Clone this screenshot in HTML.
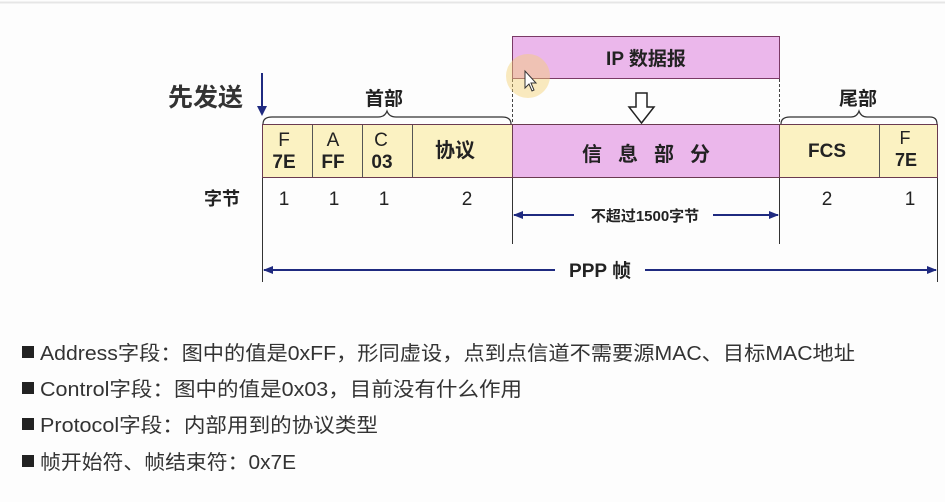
<!DOCTYPE html>
<html><head><meta charset="utf-8"><style>
html,body{margin:0;padding:0;background:#fdfdfd;}
svg{display:block;}
text{font-family:"Liberation Sans","Noto Sans CJK SC",sans-serif;}
</style></head><body>
<svg width="945" height="502" viewBox="0 0 945 502" xmlns="http://www.w3.org/2000/svg">
<defs>
<marker id="ah" markerWidth="10" markerHeight="8" refX="9" refY="4" orient="auto" markerUnits="userSpaceOnUse"><path d="M0,0 L10,4 L0,8 Z" fill="#1f2a80"/></marker>
</defs>
<rect x="0" y="0" width="945" height="502" fill="#fdfdfd"/>
<line x1="0" y1="2.5" x2="945" y2="2.5" stroke="#e6e6e6" stroke-width="2"/>

<rect x="512.5" y="36.5" width="267" height="42" fill="#ebb7eb" stroke="#7a3a66" stroke-width="1"/>
<text x="646" y="65" font-size="19" font-weight="bold" text-anchor="middle" fill="#222">IP 数据报</text>
<line x1="512.5" y1="79" x2="512.5" y2="124" stroke="#444" stroke-dasharray="3,2"/>
<line x1="779.5" y1="79" x2="779.5" y2="124" stroke="#444" stroke-dasharray="3,2"/>
<circle cx="528" cy="76" r="22" fill="#f3d070" opacity="0.45"/>
<path d="M525,71 L525,88 L529,84 L532,91 L534,90 L531,83 L536,83 Z" fill="#fff" stroke="#333" stroke-width="1"/>
<path d="M636,93 L647,93 L647,107 L654,107 L641.5,123 L629,107 L636,107 Z" fill="#fff" stroke="#222" stroke-width="1.5"/>

<text x="168" y="106" font-size="25" font-weight="bold" fill="#333">先发送</text>
<line x1="262" y1="73" x2="262" y2="108" stroke="#1f2a80" stroke-width="2"/>
<path d="M257,106 L267,106 L262,116 Z" fill="#1f2a80"/>

<text x="384" y="105" font-size="19" font-weight="bold" fill="#222" text-anchor="middle">首部</text>
<path d="M263,124 Q263,117 272,117 L378,117 Q385,117 387,111 Q389,117 396,117 L502,117 Q511,117 511,124" fill="none" stroke="#333" stroke-width="1.2"/>
<text x="858" y="105" font-size="19" font-weight="bold" fill="#222" text-anchor="middle">尾部</text>
<path d="M781,124 Q781,117 790,117 L851,117 Q857,117 859,111 Q861,117 867,117 L930,117 Q937,117 937,124" fill="none" stroke="#333" stroke-width="1.2"/>

<rect x="262.5" y="124.5" width="250" height="53" fill="#fbf2c2" stroke="#6a3a50" stroke-width="1"/>
<rect x="512.5" y="124.5" width="267" height="53" fill="#ebb7eb" stroke="#6a3a50" stroke-width="1"/>
<rect x="779.5" y="124.5" width="158" height="53" fill="#fbf2c2" stroke="#6a3a50" stroke-width="1"/>
<g stroke="#555" stroke-width="1">
<line x1="312.5" y1="125" x2="312.5" y2="177"/>
<line x1="362.5" y1="125" x2="362.5" y2="177"/>
<line x1="412.5" y1="125" x2="412.5" y2="177"/>
<line x1="879.5" y1="125" x2="879.5" y2="177"/>
</g>
<g font-size="19" fill="#222" text-anchor="middle">
<text x="284" y="146">F</text><text x="284" y="168" font-weight="bold">7E</text>
<text x="333" y="146">A</text><text x="333" y="168" font-weight="bold">FF</text>
<text x="381" y="146">C</text><text x="382" y="168" font-weight="bold">03</text>
<text x="455" y="157" font-weight="bold" font-size="20">协议</text>
<text x="654" y="161" font-weight="bold" font-size="20" letter-spacing="16">信息部分</text>
<text x="827" y="157" font-weight="bold" font-size="19">FCS</text>
<text x="905" y="144" font-size="18">F</text><text x="906" y="166" font-weight="bold" font-size="18">7E</text>
</g>

<text x="204" y="205" font-size="18" font-weight="bold" fill="#222">字节</text>
<g font-size="19" fill="#222" text-anchor="middle">
<text x="284" y="205">1</text><text x="334" y="205">1</text><text x="384" y="205">1</text><text x="467" y="205">2</text>
<text x="827" y="205">2</text><text x="910" y="205">1</text>
</g>

<g stroke="#333" stroke-width="1">
<line x1="262.5" y1="178" x2="262.5" y2="282"/>
<line x1="512.5" y1="178" x2="512.5" y2="244"/>
<line x1="779.5" y1="178" x2="779.5" y2="244"/>
<line x1="937.5" y1="178" x2="937.5" y2="282"/>
</g>

<line x1="574" y1="215" x2="514" y2="215" stroke="#1f2a80" stroke-width="2" marker-end="url(#ah)"/>
<line x1="713" y1="215" x2="778" y2="215" stroke="#1f2a80" stroke-width="2" marker-end="url(#ah)"/>
<text x="645" y="221" font-size="15" font-weight="bold" fill="#222" text-anchor="middle">不超过1500字节</text>

<line x1="555" y1="270" x2="264" y2="270" stroke="#1f2a80" stroke-width="2" marker-end="url(#ah)"/>
<line x1="645" y1="270" x2="936" y2="270" stroke="#1f2a80" stroke-width="2" marker-end="url(#ah)"/>
<text x="600" y="277" font-size="19" font-weight="bold" fill="#222" text-anchor="middle">PPP 帧</text>

<g fill="#222">
<rect x="22" y="346" width="12" height="12"/>
<rect x="22" y="382" width="12" height="12"/>
<rect x="22" y="418" width="12" height="12"/>
<rect x="22" y="455" width="12" height="12"/>
</g>
<g font-size="20" fill="#333">
<text x="40" y="360" textLength="815" lengthAdjust="spacingAndGlyphs">Address字段：图中的值是0xFF，形同虚设，点到点信道不需要源MAC、目标MAC地址</text>
<text x="40" y="396" textLength="482" lengthAdjust="spacingAndGlyphs">Control字段：图中的值是0x03，目前没有什么作用</text>
<text x="40" y="432" textLength="338" lengthAdjust="spacingAndGlyphs">Protocol字段：内部用到的协议类型</text>
<text x="40" y="469" textLength="256" lengthAdjust="spacingAndGlyphs">帧开始符、帧结束符：0x7E</text>
</g>
</svg>
</body></html>
